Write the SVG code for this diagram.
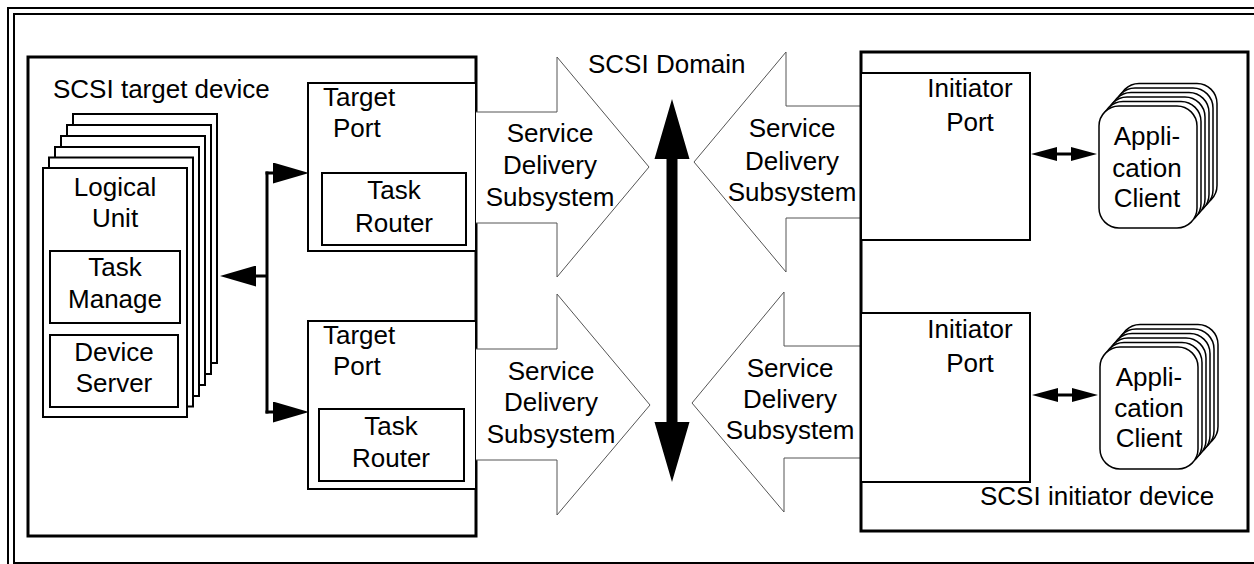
<svg xmlns="http://www.w3.org/2000/svg" width="1254" height="564" viewBox="0 0 1254 564">
<style>
text{font-family:"Liberation Sans",Arial,sans-serif;font-size:26px;fill:#000}
.c{text-anchor:middle}
.frame{fill:none;stroke:#000;stroke-width:2}
.dev{fill:#fff;stroke:#000;stroke-width:3}
.box{fill:#fff;stroke:#000;stroke-width:2}
.card{fill:#fff;stroke:#000;stroke-width:1.5}
.blk{fill:#fff;stroke:#555;stroke-width:1}
.bus{fill:none;stroke:#000;stroke-width:3}
</style>
<defs>
<marker id="ah" viewBox="0 0 36 21" markerWidth="36" markerHeight="21" refX="0" refY="10.5" orient="auto-start-reverse" markerUnits="userSpaceOnUse">
<path d="M0,0 L36,10.5 L0,21 z" fill="#000"/>
</marker>
<marker id="ah2" viewBox="0 0 26 14" markerWidth="26" markerHeight="14" refX="0" refY="7" orient="auto-start-reverse" markerUnits="userSpaceOnUse">
<path d="M0,0 L26,7 L0,14 z" fill="#000"/>
</marker>
</defs>
<rect width="1254" height="564" fill="#fff"/>
<g id="frame">
<rect class="frame" x="8" y="8" width="1260" height="570"/>
<rect class="frame" x="14" y="14" width="1250" height="549"/>
</g>
<g id="target-device">
<rect class="dev" x="28" y="57" width="448" height="479"/>
<text x="53" y="98">SCSI target device</text>
</g>
<g id="logical-unit">
<rect class="box" x="73" y="114" width="144" height="249"/>
<rect class="box" x="67" y="125" width="144" height="249"/>
<rect class="box" x="61" y="136" width="144" height="249"/>
<rect class="box" x="55" y="147" width="144" height="249"/>
<rect class="box" x="49" y="157.5" width="144" height="249"/>
<rect class="box" x="43" y="168" width="144" height="249"/>
<text class="c" x="115" y="196">Logical</text>
<text class="c" x="115" y="227">Unit</text>
</g>
<g id="task-manage">
<rect class="box" x="50" y="251" width="130" height="72"/>
<text class="c" x="115" y="276">Task</text>
<text class="c" x="115" y="308">Manage</text>
</g>
<g id="device-server">
<rect class="box" x="50" y="335" width="128" height="72"/>
<text class="c" x="114" y="361">Device</text>
<text class="c" x="114" y="392">Server</text>
</g>
<g id="target-port-1">
<rect class="box" x="308" y="83" width="168" height="168"/>
<text x="323" y="106">Target</text>
<text x="333" y="137">Port</text>
</g>
<g id="task-router-1">
<rect class="box" x="322" y="173" width="144" height="72"/>
<text class="c" x="394" y="199">Task</text>
<text class="c" x="394" y="232">Router</text>
</g>
<g id="target-port-2">
<rect class="box" x="308" y="321" width="168" height="168"/>
<text x="323" y="344">Target</text>
<text x="333" y="375">Port</text>
</g>
<g id="task-router-2">
<rect class="box" x="319" y="409" width="145" height="72"/>
<text class="c" x="391" y="435">Task</text>
<text class="c" x="391" y="467">Router</text>
</g>
<g id="sds-1">
<path class="blk" d="M476,112 H557 V57 L649,167 L557,277 V223 H476"/>
<text class="c" x="550" y="142">Service</text>
<text class="c" x="550" y="174">Delivery</text>
<text class="c" x="550" y="206">Subsystem</text>
</g>
<g id="sds-2">
<path class="blk" d="M476,349 H557 V294 L650,405 L557,515 V460 H476"/>
<text class="c" x="551" y="380">Service</text>
<text class="c" x="551" y="411">Delivery</text>
<text class="c" x="551" y="443">Subsystem</text>
</g>
<g id="sds-3">
<path class="blk" d="M861,106 H786 V52 L694,162 L786,272 V218 H861"/>
<text class="c" x="792" y="137">Service</text>
<text class="c" x="792" y="170">Delivery</text>
<text class="c" x="792" y="201">Subsystem</text>
</g>
<g id="sds-4">
<path class="blk" d="M861,346 H784 V292 L692,403 L784,512 V458 H861"/>
<text class="c" x="790" y="377">Service</text>
<text class="c" x="790" y="408">Delivery</text>
<text class="c" x="790" y="439">Subsystem</text>
</g>
<g id="scsi-domain">
<text x="588" y="73">SCSI Domain</text>
</g>
<g id="initiator-device">
<rect class="dev" x="861" y="52" width="387" height="479"/>
<text x="980" y="505">SCSI initiator device</text>
</g>
<g id="initiator-port-1">
<rect class="box" x="861" y="73" width="169" height="167"/>
<text class="c" x="970" y="97">Initiator</text>
<text class="c" x="970" y="131">Port</text>
</g>
<g id="initiator-port-2">
<rect class="box" x="861" y="313" width="169" height="169"/>
<text class="c" x="970" y="338">Initiator</text>
<text class="c" x="970" y="372">Port</text>
</g>
<g id="app-client-1">
<rect class="card" x="1119" y="83.5" width="98" height="122" rx="20"/>
<rect class="card" x="1115" y="88" width="98" height="122" rx="20"/>
<rect class="card" x="1111" y="92.5" width="98" height="122" rx="20"/>
<rect class="card" x="1107" y="97" width="98" height="122" rx="20"/>
<rect class="card" x="1103" y="101.5" width="98" height="122" rx="20"/>
<rect class="card" x="1099" y="106" width="98" height="122" rx="20"/>
<text class="c" x="1147" y="145">Appli-</text>
<text class="c" x="1147" y="177">cation</text>
<text class="c" x="1147" y="207">Client</text>
</g>
<g id="app-client-2">
<rect class="card" x="1120" y="324.5" width="98" height="122" rx="20"/>
<rect class="card" x="1116" y="329" width="98" height="122" rx="20"/>
<rect class="card" x="1112" y="333.5" width="98" height="122" rx="20"/>
<rect class="card" x="1108" y="338" width="98" height="122" rx="20"/>
<rect class="card" x="1104" y="342.5" width="98" height="122" rx="20"/>
<rect class="card" x="1100" y="347" width="98" height="122" rx="20"/>
<text class="c" x="1149" y="386">Appli-</text>
<text class="c" x="1149" y="417">cation</text>
<text class="c" x="1149" y="447">Client</text>
</g>
<g id="connectors">
<path class="bus" d="M267,171.5 V413.5"/>
<path class="bus" d="M265.5,173 H273" marker-end="url(#ah)"/>
<path class="bus" d="M265.5,412 H273" marker-end="url(#ah)"/>
<path class="bus" d="M267,276 H256" marker-end="url(#ah)"/>
<path class="bus" d="M1057,154 H1071" marker-start="url(#ah2)" marker-end="url(#ah2)"/>
<path class="bus" d="M1058,395 H1072" marker-start="url(#ah2)" marker-end="url(#ah2)"/>
<polygon points="672,99 689.5,159 677.5,159 677.5,422 689.5,422 672,482 654.5,422 666.5,422 666.5,159 654.5,159" fill="#000"/>
</g>
</svg>
